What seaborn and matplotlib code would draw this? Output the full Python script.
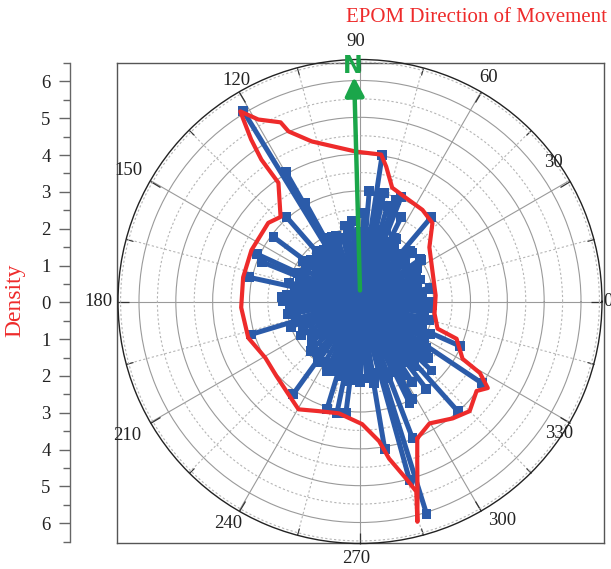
import numpy as np
import pandas as pd
import matplotlib
matplotlib.use("Agg")
import matplotlib.pyplot as plt
import seaborn as sns
from matplotlib.ticker import FixedLocator, FuncFormatter

# ---------------- data ----------------
# short spikes forming the dense core (direction in degrees, density)
core_angle_deg = [0, 5, 10, 15, 20, 25, 30, 35, 40, 45, 50, 55, 60, 65, 70, 75, 80, 85,
                  90, 95, 100, 105, 110, 115, 120, 125, 130, 135, 140, 145, 150, 155, 160, 165, 170, 175,
                  180, 185, 190, 195, 200, 205, 210, 215, 220, 225, 230, 235, 240, 245, 250, 255, 260, 265,
                  270, 275, 280, 285, 290, 295, 300, 305, 310, 315, 320, 325, 330, 335, 340, 345, 350, 355]
core_density = [1.90, 1.70, 1.92, 1.60, 1.75, 1.50, 1.80, 2.00, 1.60, 1.93, 1.70, 1.50, 1.96, 1.80, 2.10, 2.00, 1.85, 1.90,
                1.90, 1.85, 1.95, 1.80, 1.90, 1.91, 1.80, 1.70, 1.80, 1.60, 1.75, 1.90, 1.70, 1.85, 1.60, 2.00, 1.80, 2.00,
                2.08, 1.90, 2.00, 1.80, 2.00, 1.70, 1.85, 1.60, 1.70, 1.90, 1.80, 2.00, 1.90, 2.09, 2.00, 2.10, 2.20, 2.15,
                2.20, 2.10, 2.25, 2.00, 2.20, 2.10, 2.30, 2.00, 2.30, 2.10, 2.40, 2.20, 2.00, 2.10, 1.80, 1.95, 1.70, 1.95]
# in-between short spikes
inner_angle_deg = [2.5, 12.5, 22.5, 32.5, 47.5, 57.5, 67.5, 82.5, 92.5, 102.5, 112.5, 127.5,
                   137.5, 147.5, 162.5, 172.5, 187.5, 202.5, 217.5, 232.5, 247.5, 257.5, 267.5,
                   277.5, 287.5, 302.5, 312.5, 317.5, 322.5, 332.5, 342.5, 352.5]
inner_density = [1.55, 1.40, 1.65, 1.50, 1.60, 1.70, 1.75, 1.80, 1.70, 1.75, 1.60, 1.50,
                 1.65, 1.40, 1.70, 1.55, 1.65, 1.50, 1.45, 1.60, 1.85, 1.90, 1.95,
                 2.00, 1.90, 2.05, 2.10, 2.20, 2.15, 1.90, 1.60, 1.75]
# longer spikes
long_angle_deg = [121.5, 119.8, 118.9, 131.0, 143.3, 155.3, 158.0, 167.7, 177.0, 196.8,
                  234.2, 244.4, 252.9, 258.3, 262.8, 279.5, 285.5, 287.4, 291.0, 296.0,
                  298.2, 307.2, 311.7, 320.3, 326.2, 336.0, 357.0, 10.7, 34.0, 42.7,
                  49.8, 61.6, 68.5, 70.4, 71.0, 77.5, 81.4, 85.2, 113.6,
                  64.0, 74.0, 79.5, 87.5, 96.0, 101.0, 303.0, 316.0]
long_density = [6.06, 4.06, 3.06, 3.04, 2.93, 3.09, 2.88, 3.07, 2.13, 3.10,
                 3.10, 2.09, 3.06, 3.10, 3.06, 4.05, 5.02, 6.04, 3.98, 3.07,
                 3.00, 2.98, 3.99, 2.10, 3.98, 2.96, 1.95, 1.92, 2.00, 1.93,
                 3.00, 1.96, 3.05, 2.93, 2.63, 3.02, 4.03, 3.00, 1.91,
                 2.55, 2.70, 2.85, 2.40, 2.20, 2.10, 2.60, 2.70]

# red density envelope (path order, degrees)
envelope_angle_deg = [292.7, 299.7, 308.4, 315.0, 322.5, 325.9, 329.2, 330.8, 338.9, 340.7,
                      350.8, 4.6, 10.7, 38.0, 47.3, 55.7, 67.1, 74.2, 79.0, 81.8,
                      91.5, 106.8, 112.8, 113.9, 119.2, 122.2, 123.9, 124.8, 124.5, 133.2,
                      139.4, 154.7, 168.3, 182.9, 198.0, 210.8, 221.7, 232.3, 240.3, 249.4,
                      259.3, 271.0, 277.8, 280.5, 284.6, 286.5, 284.6, 287.0, 289.7, 292.7]
envelope_density = [4.03, 3.81, 4.05, 4.21, 3.99, 4.19, 3.79, 3.19, 2.81, 2.23,
                    2.05, 2.06, 2.06, 2.39, 2.90, 3.01, 3.09, 3.21, 3.73, 4.03,
                    4.07, 4.54, 5.01, 5.32, 5.66, 6.10, 5.30, 4.69, 3.91, 3.15,
                    3.28, 3.26, 3.24, 3.23, 3.19, 2.99, 3.04, 3.18, 3.37, 3.18,
                    3.09, 3.33, 3.83, 4.34, 4.97, 5.38, 6.18, 5.34, 4.61, 4.03]

north_angle_deg = 91.5
theta_tick_labels = ["0", "30", "60", "90", "120", "150", "180", "210", "240", "270", "300", "330"]
density_tick_values = [-6, -5, -4, -3, -2, -1, 0, 1, 2, 3, 4, 5, 6]

# ---------------- style ----------------
sns.set_theme(style="white")
plt.rcParams['font.family'] = ['Liberation Serif', 'DejaVu Serif']

BLUE = "#2b5ba9"
RED = "#ee2b2b"
GREEN = "#1aa64a"
W, H = 611, 569

fig = plt.figure(figsize=(W / 100, H / 100), dpi=100)
fig.patch.set_facecolor("white")

def fx(px):
    return px / W

def fy(py):
    return 1 - py / H

# rectangular frame
ax_frame = fig.add_axes([fx(117), fy(543), (604 - 117) / W, (543 - 63) / H])
ax_frame.set_xticks([])
ax_frame.set_yticks([])
for s in ax_frame.spines.values():
    s.set_visible(True)
    s.set_color("#555555")
    s.set_linewidth(1.0)

# polar axes
cx, cy, R = 360, 301.5, 242
ax = fig.add_axes([fx(cx - R), fy(cy + R), 2 * R / W, 2 * R / H], projection="polar")
ax.patch.set_alpha(0)
rmax = 6.57

ax.set_xticks(np.deg2rad(np.arange(0, 360, 30)))
ax.set_xticklabels([])
ax.set_xticks(np.deg2rad(np.arange(15, 360, 30)), minor=True)
ax.set_yticks([1, 2, 3, 4, 5, 6])
ax.set_yticklabels([])
ax.set_yticks(np.arange(0.5, 6.6, 1.0), minor=True)
ax.grid(which="major", color="#9a9a9a", lw=0.8, ls="-")
ax.grid(which="minor", color="#b5b5b5", lw=0.8, ls=(0, (2, 2)))
ax.spines["polar"].set_color("#222222")
ax.spines["polar"].set_linewidth(1.0)
ax.tick_params(axis="x", which="major", direction="in", length=8, width=0.9, color="#333333",
               bottom=True, top=True)
ax.tick_params(axis="x", which="minor", direction="in", length=5, width=0.8, color="#333333",
               bottom=True, top=True)
ax.tick_params(axis="y", which="both", length=0)

# spikes
spike_df = pd.DataFrame({
    "theta": np.deg2rad(core_angle_deg + inner_angle_deg + long_angle_deg),
    "density": core_density + inner_density + long_density,
})
ax.vlines(spike_df["theta"], 0, spike_df["density"], colors=BLUE, lw=3.6, zorder=3)
sns.scatterplot(data=spike_df, x="theta", y="density", marker="s", s=50, color=BLUE,
                edgecolor="none", linewidth=0, ax=ax, zorder=4, legend=False)

# envelope
env_df = pd.DataFrame({
    "theta": np.unwrap(np.deg2rad(envelope_angle_deg)),
    "density": envelope_density,
})
sns.lineplot(data=env_df, x="theta", y="density", sort=False, estimator=None, color=RED,
             lw=3.0, ax=ax, zorder=5, legend=False)

# north arrow
ax.annotate("", xy=(np.deg2rad(north_angle_deg), 6.1), xytext=(np.deg2rad(90), 0.3),
            arrowprops=dict(arrowstyle="-|>,head_length=0.7,head_width=0.35", color=GREEN,
                            lw=3.2, shrinkA=0, shrinkB=0, mutation_scale=16), zorder=6)
ax.text(np.deg2rad(91.7), 6.4, "N", color=GREEN, fontsize=17, fontweight="bold",
        family="DejaVu Sans", ha="center", va="center", clip_on=False, zorder=7)

ax.set_xlabel("")
ax.set_ylabel("")
ax.set_ylim(0, rmax)

# theta labels (placed around the circle)
label_pos = [(0, 6.72), (35.7, 6.46), (60.1, 7.0), (90.9, 7.05), (119.1, 6.88), (150.4, 7.22),
             (180, 7.1), (209.9, 7.3), (239.3, 7.0), (269.1, 6.99), (303, 7.1), (326.4, 6.5)]
for lab, (ang, rr) in zip(theta_tick_labels, label_pos):
    ax.text(np.deg2rad(ang), rr, lab, ha="center", va="center", fontsize=13.5,
            color="#222222", clip_on=False)

# left density axis
ax_left = fig.add_axes([fx(70), fy(541.7), 0.0001, (541.7 - 63) / H])
ax_left.set_ylim(-6.5, 6.5)
ax_left.set_xticks([])
for name in ["top", "right", "bottom"]:
    ax_left.spines[name].set_visible(False)
ax_left.spines["left"].set_visible(True)
ax_left.spines["left"].set_color("#666666")
ax_left.spines["left"].set_linewidth(1.0)
ax_left.yaxis.set_major_locator(FixedLocator(density_tick_values))
ax_left.yaxis.set_minor_locator(FixedLocator(np.arange(-6.5, 6.6, 1.0)))
ax_left.yaxis.set_major_formatter(FuncFormatter(lambda v, p: f"{abs(int(round(v)))}"))
ax_left.tick_params(axis="y", which="major", left=True, direction="out", length=8, width=1.0,
                    color="#666666", labelsize=13.5, labelcolor="#222222", pad=6)
ax_left.tick_params(axis="y", which="minor", left=True, direction="out", length=5, width=1.0,
                    color="#666666")
ax_left.patch.set_alpha(0)

fig.text(fx(15), fy(300), "Density", rotation=90, color=RED, fontsize=17,
         ha="center", va="center")
fig.text(fx(607), fy(18), "EPOM Direction of Movement", color=RED, fontsize=15,
         ha="right", va="center")

fig.savefig("out.png", dpi=100)
